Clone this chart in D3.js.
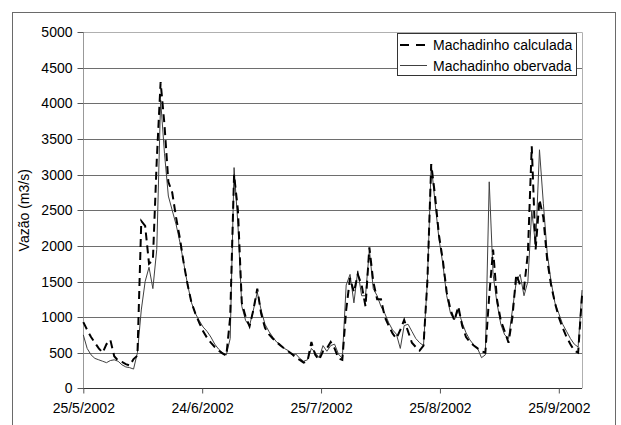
<!DOCTYPE html>
<html>
<head>
<meta charset="utf-8">
<script src="https://cdn.jsdelivr.net/npm/d3@7"></script>
<style>
  html, body { margin: 0; padding: 0; background: #fff; }
  svg { display: block; font-family: "Liberation Sans", Arial, sans-serif; }
</style>
</head>
<body>
<svg id="chart" width="621" height="425"></svg>
<script>
// ---- data (daily values starting 25/5/2002) ----
const seriesNames = ["Machadinho calculada", "Machadinho obervada"];
const startDate = "25/5/2002";
const calculada = [
  930, 820, 720, 640, 560, 500, 620, 680, 450, 390,
  370, 340, 320, 410, 460, 2350, 2280, 1750, 1800, 3200,
  4300, 3700, 2900, 2750, 2400, 2100, 1750, 1450, 1200, 1050,
  920, 800, 710, 640, 580, 530, 490, 460, 1000, 3000,
  2500, 1200, 1000, 870, 1100, 1400, 1050, 850, 760, 700,
  650, 600, 560, 520, 480, 430, 400, 360, 380, 650,
  470, 400, 520, 560, 650, 560, 420, 400, 1100, 1550,
  1350, 1600, 1450, 1150, 1980, 1500, 1250, 1250, 1000, 880,
  770, 700, 820, 960, 800, 640, 580, 530, 600, 1500,
  3150, 2700, 2150, 1800, 1350, 1100, 950, 1150, 880, 720,
  650, 600, 560, 520, 500, 1300, 1950, 1250, 950, 800,
  640, 1000, 1600, 1450, 1400, 1900, 3400, 1950, 2650, 2400,
  1800, 1450, 1200, 1000, 850, 720, 620, 530, 500, 1300
];
const observada = [
  750, 560, 470, 420, 400, 380, 360, 390, 400, 380,
  330, 300, 290, 270, 500, 1100, 1500, 1700, 1400, 1950,
  4050, 3300, 2700, 2500, 2300, 2050, 1750, 1450, 1200, 1050,
  950, 860, 800, 720, 620, 550, 500, 470, 700, 3100,
  2300, 1150, 950, 880, 1100, 1350, 1100, 900, 800, 720,
  650, 620, 560, 530, 470, 480, 420, 380, 400, 560,
  500, 430, 600, 520, 600, 620, 480, 420, 1450, 1600,
  1200, 1650, 1300, 1300, 1950, 1400, 1300, 1150, 1050, 920,
  820, 760, 560, 880, 900, 800, 700, 640, 600, 1500,
  3150, 2600, 2100, 1750, 1300, 1050, 960, 1100, 920, 780,
  680, 610, 560, 430, 470, 2900, 1600, 1200, 900, 750,
  700, 1100, 1500, 1600, 1300, 1500, 2500, 2000, 3350, 2600,
  1900, 1500, 1200, 1050, 900, 800, 700, 620, 580, 1380
];
const yTicks = [0, 500, 1000, 1500, 2000, 2500, 3000, 3500, 4000, 4500, 5000];
const xTickDays = [0, 30.75, 61.5, 92.25, 123];
const xTickLabels = ["25/5/2002", "24/6/2002", "25/7/2002", "25/8/2002", "25/9/2002"];
const yTitle = "Vazão (m3/s)";

// ---- layout ----
const svg = d3.select("#chart");
const pLeft = 83.3, pRight = 582, pTop = 32.3, pBottom = 388.3;

const x = d3.scaleLinear().domain([0, calculada.length - 1]).range([pLeft, pRight]);
const y = d3.scaleLinear().domain([0, 5000]).range([pBottom, pTop]);

// outer frame
svg.append("rect").attr("x", 12.5).attr("y", 12.5).attr("width", 603).attr("height", 430)
  .attr("fill", "#fff").attr("stroke", "#6a6a6a").attr("stroke-width", 1);

// gridlines
svg.append("g").selectAll("line").data(yTicks.filter(d => d > 0)).join("line")
  .attr("x1", pLeft).attr("x2", pRight)
  .attr("y1", d => Math.round(y(d)) + 0.5).attr("y2", d => Math.round(y(d)) + 0.5)
  .attr("stroke", d => d === 5000 ? "#b0b0b0" : "#6e6e6e").attr("stroke-width", 1);

// plot area right border
svg.append("line").attr("x1", pRight + 0.5).attr("x2", pRight + 0.5).attr("y1", pTop).attr("y2", pBottom)
  .attr("stroke", "#b0b0b0");

// y axis
const yAxis = d3.axisLeft(y).tickValues(yTicks).tickSize(6).tickPadding(5).tickFormat(d3.format("d"));
const gy = svg.append("g").attr("transform", `translate(${Math.round(pLeft) + 0.5},0)`).call(yAxis);
gy.select(".domain").attr("stroke", "#999").attr("d", `M0,${pTop}V${pBottom}`);
gy.selectAll(".tick line").attr("stroke", "#555");
gy.selectAll(".tick text").attr("font-size", 14).attr("fill", "#000")
  .attr("font-family", "'Liberation Sans', Arial, sans-serif");
gy.selectAll(".tick").attr("transform", d => `translate(0,${Math.round(y(d)) + 0.5})`);

// x axis
const xAxis = d3.axisBottom(x).tickValues(xTickDays).tickSize(5).tickPadding(10)
  .tickFormat((d, i) => xTickLabels[i]);
const gx = svg.append("g").attr("transform", `translate(0,${Math.round(pBottom) + 0.5})`).call(xAxis);
gx.select(".domain").attr("stroke", "#333").attr("d", `M${pLeft},0H${pRight}`);
gx.selectAll(".tick line").attr("stroke", "#555");
gx.selectAll(".tick text").attr("font-size", 14).attr("fill", "#000")
  .attr("font-family", "'Liberation Sans', Arial, sans-serif");

// y title
svg.append("text").attr("transform", `translate(29,${(pTop + pBottom) / 2}) rotate(-90)`)
  .attr("text-anchor", "middle").attr("font-size", 14).attr("fill", "#000").text(yTitle);

// lines
const line = d3.line().x((d, i) => x(i)).y(d => y(d));
const plot = svg.append("g");
plot.append("path").datum(observada).attr("d", line)
  .attr("fill", "none").attr("stroke", "#404040").attr("stroke-width", 1);
plot.append("path").datum(calculada).attr("d", line)
  .attr("fill", "none").attr("stroke", "#000").attr("stroke-width", 2)
  .attr("stroke-dasharray", "8,5");

// legend
const lg = svg.append("g");
lg.append("rect").attr("x", 397.5).attr("y", 33.5).attr("width", 179).attr("height", 42)
  .attr("fill", "#fff").attr("stroke", "#333");
const styles = [
  { w: 2, dash: "9,7", c: "#000" },
  { w: 1, dash: null, c: "#404040" }
];
seriesNames.forEach((name, i) => {
  const cy = 45 + i * 20.5;
  lg.append("line").attr("x1", 400).attr("x2", 427).attr("y1", cy).attr("y2", cy)
    .attr("stroke", styles[i].c).attr("stroke-width", styles[i].w)
    .attr("stroke-dasharray", styles[i].dash);
  lg.append("text").attr("x", 433).attr("y", cy + 5).attr("font-size", 14)
    .attr("fill", "#000").text(name);
});
</script>
</body>
</html>
